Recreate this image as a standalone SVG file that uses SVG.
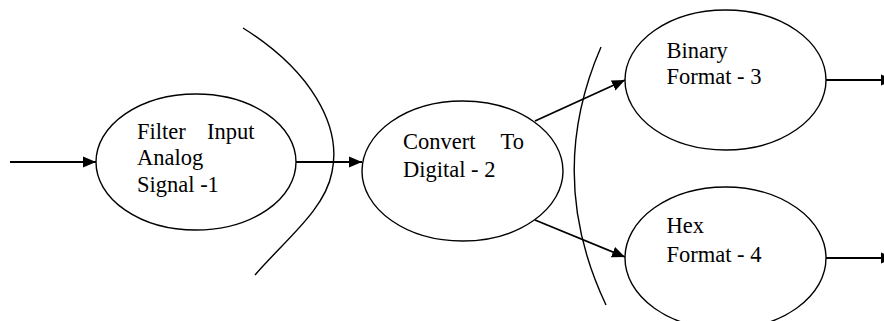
<svg xmlns="http://www.w3.org/2000/svg" width="884" height="321" viewBox="0 0 884 321">
<style>
.node{fill:#fff;stroke:#000;stroke-width:1.4}
.lbl{font-family:'Liberation Serif','Times New Roman',serif;font-size:22.5px;fill:#000}
.edge{stroke:#000;stroke-width:1.8;fill:none}
.arc{stroke:#000;stroke-width:1.4;fill:none}
</style>
<defs>
<marker id="ah" markerUnits="userSpaceOnUse" markerWidth="14" markerHeight="12" refX="13" refY="6" orient="auto">
<path d="M0,0.5 L13,6 L0,11.5 Z" fill="#000"/>
</marker>
</defs>
<g id="separators">
<path class="arc" d="M243,28 C310,70 342,125 332,172 C325,210 285,240 255,275"/>
<path class="arc" d="M601,47 Q545,176 606,305"/>
</g>
<g id="connectors">
<line class="edge" x1="10" y1="162" x2="96" y2="162" marker-end="url(#ah)"/>
<line class="edge" x1="296" y1="162" x2="362" y2="162" marker-end="url(#ah)"/>
<line class="edge" x1="535" y1="121" x2="625" y2="80" marker-end="url(#ah)"/>
<line class="edge" x1="535" y1="220" x2="625" y2="257" marker-end="url(#ah)"/>
<line class="edge" x1="826" y1="80" x2="894" y2="80" marker-end="url(#ah)"/>
<line class="edge" x1="826" y1="258" x2="894" y2="258" marker-end="url(#ah)"/>
</g>
<g id="node1">
<ellipse class="node" cx="196" cy="162" rx="100" ry="68"/>
<text class="lbl" x="137" y="138.5">Filter</text>
<text class="lbl" x="207" y="138.5">Input</text>
<text class="lbl" x="137" y="165">Analog</text>
<text class="lbl" x="137" y="191.5">Signal -1</text>
</g>
<g id="node2">
<ellipse class="node" cx="462.5" cy="171" rx="100.5" ry="70"/>
<text class="lbl" x="403" y="149">Convert</text>
<text class="lbl" x="500.5" y="149">To</text>
<text class="lbl" x="403" y="176.5">Digital - 2</text>
</g>
<g id="node3">
<ellipse class="node" cx="725.5" cy="80" rx="100.5" ry="70"/>
<text class="lbl" x="666.5" y="58.3">Binary</text>
<text class="lbl" x="666.5" y="84.3">Format - 3</text>
</g>
<g id="node4">
<ellipse class="node" cx="725.5" cy="258" rx="100.5" ry="71"/>
<text class="lbl" x="666.5" y="233.3">Hex</text>
<text class="lbl" x="666.5" y="261.7">Format - 4</text>
</g>
</svg>
